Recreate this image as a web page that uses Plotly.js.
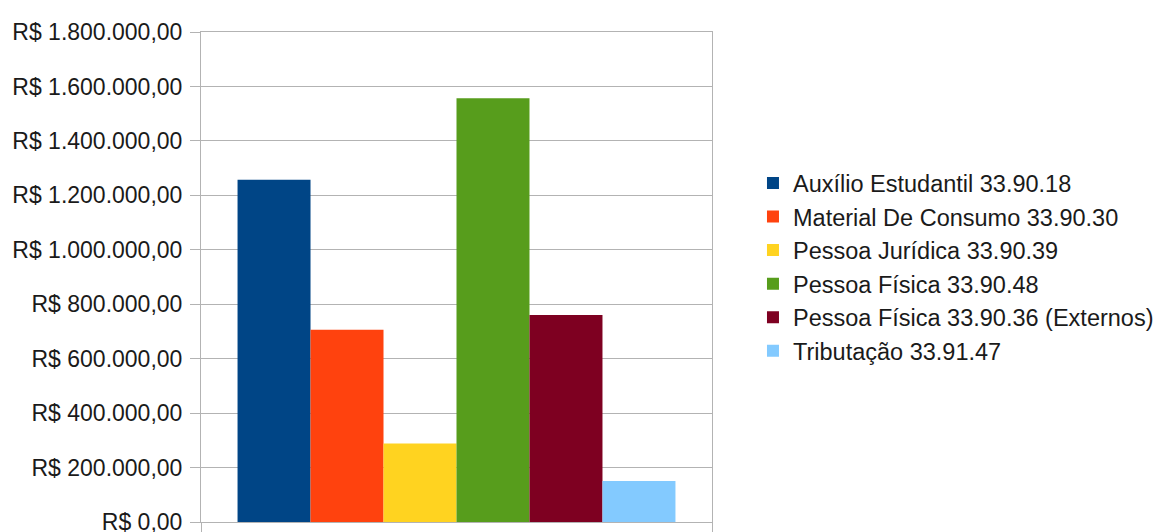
<!DOCTYPE html>
<html>
<head>
<meta charset="utf-8">
<script src="https://cdn.plot.ly/plotly-3.0.1.min.js"></script>
<style>html,body{margin:0;padding:0;background:#fff;}#chart{width:1155px;height:532px;}</style>
</head>
<body>
<div id="chart"></div>
<script>
var categories = [""];
var seriesNames = [
  "Auxílio Estudantil 33.90.18",
  "Material De Consumo 33.90.30",
  "Pessoa Jurídica 33.90.39",
  "Pessoa Física 33.90.48",
  "Pessoa Física 33.90.36 (Externos)",
  "Tributação 33.91.47"
];
var seriesValues = [1257000, 706000, 288000, 1557000, 760000, 150500];
var seriesColors = ["#004586", "#ff420e", "#ffd320", "#579d1c", "#7e0021", "#83caff"];
var yTickValues = [0, 200000, 400000, 600000, 800000, 1000000, 1200000, 1400000, 1600000, 1800000];
var yTickLabels = [
  "R$ 0,00", "R$ 200.000,00", "R$ 400.000,00", "R$ 600.000,00", "R$ 800.000,00",
  "R$ 1.000.000,00", "R$ 1.200.000,00", "R$ 1.400.000,00", "R$ 1.600.000,00", "R$ 1.800.000,00"
];

var traces = seriesNames.map(function (name, i) {
  return {
    type: "bar",
    name: name,
    x: categories,
    y: [seriesValues[i]],
    marker: { color: seriesColors[i], line: { width: 0 } },
    hoverinfo: "none"
  };
});

var layout = {
  width: 1155,
  height: 532,
  margin: { l: 201, r: 443, t: 32, b: 10, pad: 0, autoexpand: false },
  paper_bgcolor: "#ffffff",
  plot_bgcolor: "#ffffff",
  font: { family: "Liberation Sans, Arial, sans-serif", size: 23, color: "#1a1a1a" },
  barmode: "group",
  bargap: 0.143,
  bargroupgap: 0,
  showlegend: true,
  legend: {
    x: 1.0802,
    xanchor: "left",
    y: 0.52,
    yanchor: "middle",
    font: { size: 23.5, color: "#1a1a1a" },
    itemwidth: 30,
    tracegroupgap: 0
  },
  xaxis: {
    type: "category",
    showticklabels: false,
    showgrid: true,
    gridcolor: "#b3b3b3",
    ticks: "outside",
    tickson: "boundaries",
    ticklen: 10,
    tickcolor: "#b3b3b3",
    showline: true,
    linecolor: "#b3b3b3",
    linewidth: 1,
    mirror: true,
    zeroline: false,
    fixedrange: true
  },
  yaxis: {
    range: [0, 1800000],
    tickmode: "array",
    tickvals: yTickValues,
    ticktext: yTickLabels,
    ticklabeloverflow: "allow",
    showgrid: true,
    gridcolor: "#b3b3b3",
    gridwidth: 1,
    ticks: "outside",
    ticklen: 10,
    tickcolor: "#b3b3b3",
    ticklabelstandoff: 3,
    showline: true,
    linecolor: "#b3b3b3",
    mirror: true,
    zeroline: false,
    fixedrange: true
  }
};

Plotly.newPlot("chart", traces, layout, { displayModeBar: false, staticPlot: true });
</script>
</body>
</html>
